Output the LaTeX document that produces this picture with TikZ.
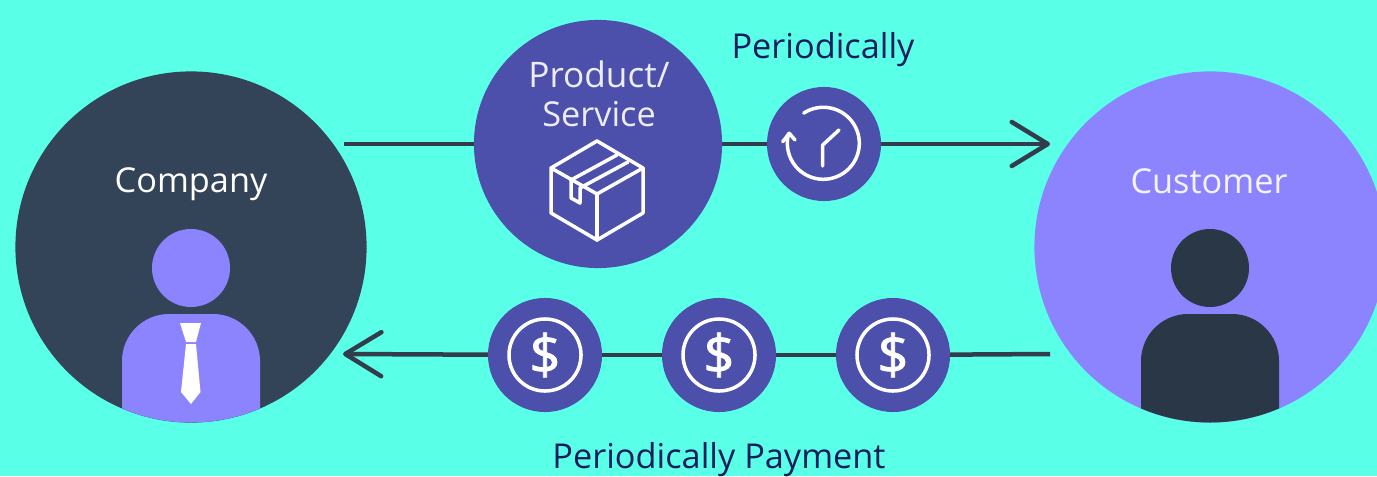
\documentclass[tikz,border=0pt]{standalone}
\usepackage{fontspec}
\setmainfont{Open Sans}
\newfontfamily\coinfont[FakeBold=1.6]{Open Sans}
\usetikzlibrary{arrows.meta}
\definecolor{bgcol}{RGB}{90,255,232}
\definecolor{slatecol}{RGB}{52,68,88}
\definecolor{inkcol}{RGB}{42,55,70}
\definecolor{linecol}{RGB}{50,60,75}
\definecolor{purplecol}{RGB}{140,132,255}
\definecolor{indigocol}{RGB}{77,80,171}
\definecolor{navycol}{RGB}{20,30,92}
\tikzset{
  bigdisc/.style={circle,inner sep=0pt,outer sep=0pt,minimum size=3.51cm},
  proddisc/.style={circle,fill=indigocol,inner sep=0pt,outer sep=0pt,minimum size=2.48cm},
  smalldisc/.style={circle,fill=indigocol,inner sep=0pt,outer sep=0pt,minimum size=1.14cm},
  coinring/.style={circle,draw=white,line width=0.035cm,inner sep=0pt,minimum size=0.72cm,
    text=white,font=\fontsize{15.5}{16}\coinfont\selectfont},
  label/.style={font=\fontsize{9.75}{11}\selectfont,inner sep=0pt},
  flow/.style={draw=linecol,line width=0.045cm},
  icon/.style={draw=white,line width=0.035cm,line cap=round,line join=round},
  barb/.style={-{Straight Barb[length=0.36cm,width=0.44cm,round]}}
}
\begin{document}
\begin{tikzpicture}[x=0.01cm,y=-0.01cm]
  \useasboundingbox (0,0) rectangle (1377,476);
  \fill[bgcol] (0,0) rectangle (1377,476);

  %company and customer with their figures
  \foreach \n/\cx/\disc/\fig in {company/191/slatecol/purplecol,customer/1210/purplecol/inkcol} {
    \node[bigdisc,fill=\disc] (\n) at (\cx,247) {};
    \fill[\fig] (\cx,268) circle (39);
    \begin{scope}
      \clip (\cx,247) circle (175.5);
      \fill[\fig,rounded corners=0.47cm] (\cx-69,500) -- (\cx-69,314) -- (\cx+69,314) -- (\cx+69,500) -- cycle;
    \end{scope}
  }
  \node[label,text=white] (companylabel) at (191,184) {Company};
  \node[label,text=white!90!purplecol] (customerlabel) at (1209,181) {Customer};

  %tie
  \fill[white] (180,323) -- (201,323) -- (196,342) -- (186,342) -- cycle;
  \fill[white] (186,344) -- (196,344) -- (200.5,392) -- (191,404) -- (181,392) -- cycle;

  %top row
  \node[proddisc] (product) at (598,144) {};
  \node[smalldisc] (clock) at (824,144) {};
  \coordinate (topstart) at (344,144);
  \coordinate (topend) at (1050,144);
  \draw[flow] (topstart) -- (product);
  \draw[flow] (product) -- (clock);
  \draw[flow,barb] (clock) -- (topend);
  \node[label,text=white!90!indigocol,align=center] (productlabel) at (599,94)
    {\fontsize{10}{10.4}\selectfont Product/\\Service};
  \node[label,text=navycol] (toplabel) at (823,50) {Periodically};

  %box
  \draw[icon] (597,141) -- (551,168) -- (551,213) -- (597,240) -- (643,213) -- (643,168) -- cycle;
  \draw[icon] (551,168) -- (597,194) -- (643,168);
  \draw[icon] (597,194) -- (597,240);
  \draw[icon] (617,155) -- (571,180) -- (571,198) -- (580,203) -- (580,188) -- (628,162);

  %clock
  \draw[icon] (803.7,113.1) arc[start angle=-123,end angle=196,radius=36];
  \draw[icon] (782.7,141.7) -- (789.3,133.3) -- (795,140);
  \draw[icon] (839,130) -- (822.7,145) -- (822.7,166);

  %coins
  \foreach \n/\cx in {coina/545,coinb/719,coinc/893} {
    \node[smalldisc] (\n) at (\cx,355) {};
    \node[coinring] (\n ring) at (\cx,355) {\$};
  }
  \coordinate (botstart) at (1050,354);
  \coordinate (botend) at (343,354);
  \draw[flow] (botstart) -- (coinc);
  \draw[flow] (coinc) -- (coinb);
  \draw[flow] (coinb) -- (coina);
  \draw[flow,barb] (coina) -- (botend);
  \node[label,text=navycol] (botlabel) at (719,460) {Periodically Payment};
\end{tikzpicture}
\end{document}
